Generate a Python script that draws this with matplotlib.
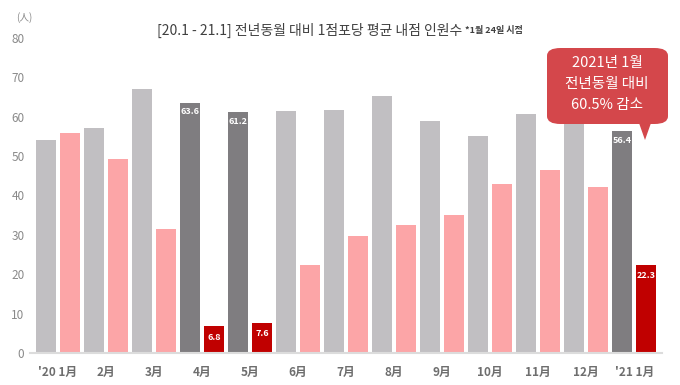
import matplotlib
matplotlib.use("Agg")
import matplotlib.pyplot as plt
import numpy as np
from matplotlib.patches import FancyBboxPatch, Polygon

plt.rcParams["font.family"] = ["Noto Sans CJK KR", "DejaVu Sans"]

# Data
months = ["'20 1月", "2月", "3月", "4月", "5月", "6月", "7月",
          "8月", "9月", "10月", "11月", "12月", "'21 1月"]
prev_year = [54.0, 57.2, 67.0, 63.6, 61.2, 61.5, 61.8, 65.3, 58.8, 55.2, 60.8, 58.4, 56.4]
this_year = [55.8, 49.2, 31.6, 6.8, 7.6, 22.3, 29.8, 32.6, 35.1, 42.9, 46.4, 42.1, 22.3]
highlight = [3, 4, 12]  # months whose values are labelled

LIGHT_GREY = "#c1bfc2"
DARK_GREY = "#7f7d80"
PINK = "#fca5a7"
DARK_RED = "#c00000"

fig = plt.figure(figsize=(6.8, 3.85), dpi=100)
ax = fig.add_axes([30 / 680, 32 / 385, 632 / 680, 315 / 385])

n = len(months)
x_prev = np.arange(n) * 2
x_this = x_prev + 1
width = 0.83

for i in range(n):
    hl = i in highlight
    ax.bar(x_prev[i], prev_year[i], width, color=DARK_GREY if hl else LIGHT_GREY, zorder=2)
    ax.bar(x_this[i], this_year[i], width, color=DARK_RED if hl else PINK, zorder=2)
    if hl:
        # value labels sit just inside the top of the highlighted bars
        ax.text(x_prev[i], prev_year[i] - 1.2, f"{prev_year[i]:.1f}", ha="center", va="top",
                color="white", fontsize=6.5, fontweight="bold")
        ax.text(x_this[i], this_year[i] - 1.6, f"{this_year[i]:.1f}", ha="center", va="top",
                color="white", fontsize=6.5, fontweight="bold")

ax.set_xlim(-0.65, 2 * n - 1 + 0.65)
ax.set_ylim(0, 80)
ax.set_yticks(range(0, 81, 10))
ax.set_xticks(x_prev + 0.5)
ax.set_xticklabels(months, color="#6e6e6e", fontsize=8.5, fontweight="bold")
ax.tick_params(axis="both", length=0)
ax.tick_params(axis="x", pad=9)
ax.tick_params(axis="y", colors="#8a8a8a", labelsize=8.5, pad=4)
for side in ["top", "right", "left"]:
    ax.spines[side].set_visible(False)
ax.spines["bottom"].set_color("#dcdcdc")
ax.spines["bottom"].set_linewidth(1.5)

fig.text(16 / 680, 1 - 18 / 385, "(人)", fontsize=7, color="#8a8a8a", ha="left", va="center")

# Title
fig.text(462 / 680, 1 - 30 / 385, "[20.1 - 21.1] 전년동월 대비 1점포당 평균 내점 인원수",
         fontsize=10, color="#404040", ha="right", va="center")
fig.text(465 / 680, 1 - 31 / 385, "*1월 24일 시점", fontsize=6.5, color="#404040",
         ha="left", va="center", fontweight="bold")

# Callout
box = FancyBboxPatch((547 / 680, 1 - 124 / 385), 121 / 680, 76 / 385,
                     boxstyle="round,pad=0,rounding_size=0.02",
                     transform=fig.transFigure, facecolor="#d4474b", edgecolor="none",
                     zorder=5)
fig.patches.append(box)
tri = Polygon([(639 / 680, 1 - 123 / 385), (651 / 680, 1 - 123 / 385), (645 / 680, 1 - 140 / 385)],
              closed=True, transform=fig.transFigure, facecolor="#d4474b", edgecolor="none",
              zorder=5)
fig.patches.append(tri)
for txt, yp in [("2021년 1월", 63), ("전년동월 대비", 84), ("60.5% 감소", 105)]:
    fig.text(607 / 680, 1 - yp / 385, txt, fontsize=10.5, color="white", ha="center",
             va="center", zorder=6)

fig.savefig("out.png", dpi=100)
